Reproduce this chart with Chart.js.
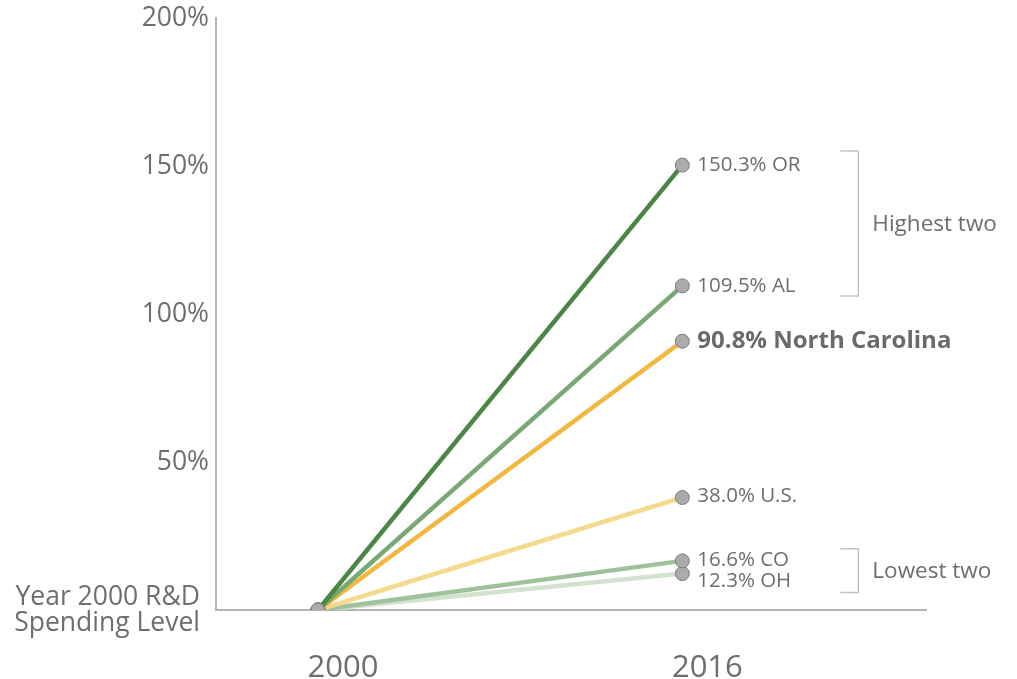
<!DOCTYPE html>
<html>
<head>
<meta charset="utf-8">
<script src="https://cdn.jsdelivr.net/npm/chart.js@4/dist/chart.umd.min.js"></script>
<style>
  html,body{margin:0;padding:0;background:#fff;}
  #wrap{width:1017px;height:679px;}
</style>
</head>
<body>
<div id="wrap"><canvas id="c" width="1017" height="679"></canvas></div>
<script>
// ---- data ----
const years = [2000, 2016];
const seriesNames = ['OR', 'AL', 'North Carolina', 'U.S.', 'CO', 'OH'];
const valuesOR = [0, 150.3];
const valuesAL = [0, 109.5];
const valuesNC = [0, 90.8];
const valuesUS = [0, 38.0];
const valuesCO = [0, 16.6];
const valuesOH = [0, 12.3];
const endLabels = ['150.3% OR', '109.5% AL', '90.8% North Carolina', '38.0% U.S.', '16.6% CO', '12.3% OH'];
const yTickValues = [0, 50, 100, 150, 200];
const baseLabel = ['Year 2000 R&D', 'Spending Level'];
const bracketLabels = ['Highest two', 'Lowest two'];

// ---- styles ----
const lineColors = ['#4b8744', '#78a873', '#f2b73e', '#f5da8e', '#9fc19c', '#d2e2cf'];
const labelDy = [0, 0, 0, -1, -1, 8];
const FONT = "'Open Sans', 'DejaVu Sans', sans-serif";
const TEXT = '#6e6e6e';

const allValues = [valuesOR, valuesAL, valuesNC, valuesUS, valuesCO, valuesOH];
const datasets = allValues.map((vals, i) => ({
  label: seriesNames[i],
  data: vals.map((v, j) => ({x: years[j], y: v})),
  borderColor: lineColors[i],
  borderWidth: 4.5,
  pointRadius: 7,
  pointBackgroundColor: '#ababab',
  pointBorderColor: '#7d7d7d',
  pointBorderWidth: 1,
  tension: 0,
  order: i
}));

const annotPlugin = {
  id: 'annot',
  afterDatasetsDraw(chart) {
    const ctx = chart.ctx;
    const ys = chart.scales.y;
    ctx.save();
    // end labels
    chart.data.datasets.forEach((ds, i) => {
      const p = chart.getDatasetMeta(i).data[1];
      const bold = i === 2;
      ctx.font = (bold ? 'bold 24px ' : '20.5px ') + FONT;
      ctx.fillStyle = bold ? '#6a6a6a' : TEXT;
      ctx.textAlign = 'left';
      ctx.textBaseline = 'middle';
      ctx.fillText(endLabels[i], p.x + 15, p.y + labelDy[i]);
    });
    // base label
    ctx.font = '26.5px ' + FONT;
    ctx.fillStyle = TEXT;
    ctx.textAlign = 'right';
    const y0 = ys.getPixelForValue(0);
    ctx.fillText(baseLabel[0], 200, y0 - 13);
    ctx.fillText(baseLabel[1], 200, y0 + 13);
    // brackets
    const m = chart.getDatasetMeta.bind(chart);
    const px = m(0).data[1].x;
    const bx = px + 176;
    const brackets = [
      [m(0).data[1].y - 14, m(1).data[1].y + 10, bracketLabels[0]],
      [m(4).data[1].y - 12, m(5).data[1].y + 19, bracketLabels[1]]
    ];
    ctx.strokeStyle = '#c4c4c4';
    ctx.lineWidth = 1.5;
    brackets.forEach(([t, b, txt]) => {
      ctx.beginPath();
      ctx.moveTo(bx - 18, t);
      ctx.lineTo(bx, t);
      ctx.lineTo(bx, b);
      ctx.lineTo(bx - 18, b);
      ctx.stroke();
      ctx.font = '22.5px ' + FONT;
      ctx.fillStyle = TEXT;
      ctx.textAlign = 'left';
      ctx.fillText(txt, bx + 14, (t + b) / 2 + 1);
    });
    ctx.restore();
  }
};

new Chart(document.getElementById('c'), {
  type: 'line',
  data: { datasets },
  plugins: [annotPlugin],
  options: {
    responsive: false,
    animation: false,
    devicePixelRatio: 1,
    layout: { padding: { top: 18, right: 91, left: 0, bottom: 0 } },
    plugins: { legend: { display: false }, tooltip: { enabled: false } },
    scales: {
      x: {
        type: 'linear',
        min: 1995.52,
        max: 2026.7,
        afterBuildTicks(scale) { scale.ticks = years.map(v => ({value: v})); },
        afterFit(scale) { scale.height = 69; scale.paddingLeft = 0; scale.paddingRight = 0; },
        grid: { display: false, drawTicks: false },
        border: { display: true, color: '#b5b5b5', width: 2 },
        ticks: {
          padding: 40,
          labelOffset: 25,
          color: TEXT,
          font: { family: FONT, size: 31 },
          maxRotation: 0,
          callback: v => String(v)
        }
      },
      y: {
        min: 0,
        max: 200,
        afterBuildTicks(scale) { scale.ticks = yTickValues.map(v => ({value: v})); },
        afterFit(scale) { scale.width = 216; scale.paddingTop = 0; scale.paddingBottom = 0; },
        grid: { display: false, drawTicks: false },
        border: { display: true, color: '#b5b5b5', width: 2 },
        ticks: {
          padding: 7,
          color: TEXT,
          font: { family: FONT, size: 26.5 },
          callback: v => v === 0 ? '' : v + '%'
        }
      }
    }
  }
});
</script>
</body>
</html>
